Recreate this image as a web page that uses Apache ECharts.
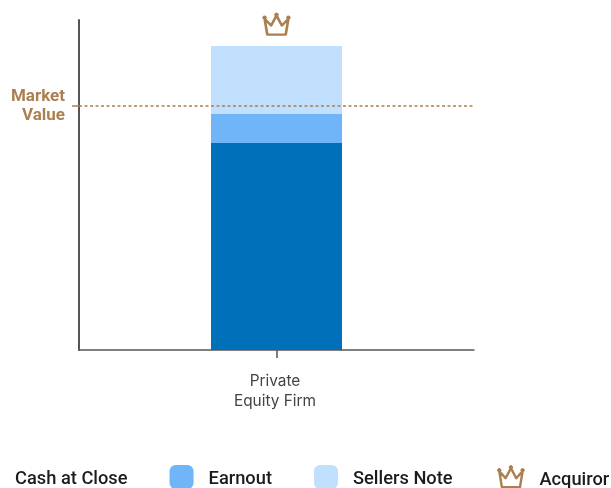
<!DOCTYPE html>
<html>
<head>
<meta charset="utf-8">
<style>html,body{margin:0;padding:0;background:#fff}#chart{width:611px;height:488px}</style>
<script src="https://cdn.jsdelivr.net/npm/echarts@6/dist/echarts.min.js"></script>
</head>
<body>
<div id="chart"></div>
<script>
// Deal consideration for a single acquirer type, stacked against market value.
const categories = ['Private\nEquity Firm'];
const cashAtClose = [62.7];
const earnout = [8.8];
const sellersNote = [20.6];
const acquiror = [92.1];
const marketValue = 74;
const marketLabel = 'Market\nValue';

const BROWN = '#AB7F4F';
const dot = (x, y) => `M${x - 1},${y} L${x},${y - 1} L${x + 1},${y} L${x},${y + 1} Z`;
const CROWN = 'path://M2,5 L8,11.5 L13,2 L18,11.5 L24,5 L21.5,20 L4.5,20 Z' + dot(2, 4) + dot(13, 1.2) + dot(24, 4);
const crownStyle = { color: 'rgba(0,0,0,0)', borderColor: BROWN, borderWidth: 2.4, borderJoin: 'round', opacity: 1 };
const legendFont = { fontFamily: 'Roboto', fontWeight: 500, fontSize: 18.3, color: '#1c1c1c' };
const legendText = { ...legendFont, rich: { t: { ...legendFont, padding: [4, 0, 0, 10] } } };
const legendFormat = name => `{t|${name}}`;

const chart = echarts.init(document.getElementById('chart'), null, { renderer: 'canvas' });
chart.setOption({
  animation: false,
  grid: { left: 79, right: 137, top: 20, bottom: 138 },
  legend: [
    {
      data: ['Cash at Close', 'Earnout', 'Sellers Note'],
      left: -24, top: 465, padding: 0,
      itemWidth: 24, itemHeight: 24, itemGap: 42,
      icon: 'roundRect', textStyle: legendText, formatter: legendFormat, selectedMode: false
    },
    {
      data: ['Acquiror'],
      left: 497, top: 465, padding: 0,
      itemWidth: 27, itemHeight: 21, itemStyle: crownStyle,
      textStyle: { ...legendFont, rich: { t: { ...legendFont, padding: [7, 0, 0, 10] } } },
      formatter: legendFormat, selectedMode: false
    }
  ],
  xAxis: {
    type: 'category',
    data: categories,
    axisLine: { lineStyle: { color: '#555', width: 1.5 } },
    axisTick: { show: true, alignWithLabel: true, customValues: [0], length: 8, lineStyle: { color: '#555', width: 1.5 } },
    axisLabel: { margin: 21, fontFamily: 'Inter', fontSize: 15.4, lineHeight: 20, color: '#444', padding: [0, 3, 0, 0] }
  },
  yAxis: {
    type: 'value',
    min: 0,
    max: 100,
    splitLine: { show: false },
    axisLine: { show: true, lineStyle: { color: '#555', width: 2 } },
    axisTick: { show: true, customValues: [marketValue], length: 7, lineStyle: { color: BROWN, width: 1.5 } },
    axisLabel: {
      customValues: [marketValue],
      formatter: () => marketLabel,
      margin: 14,
      fontFamily: 'Roboto', fontWeight: 700, fontSize: 17, lineHeight: 19, color: BROWN, align: 'right'
    }
  },
  series: [
    { name: 'Cash at Close', type: 'bar', stack: 'deal', barWidth: 131, data: cashAtClose, itemStyle: { color: '#0070BA' } },
    { name: 'Earnout', type: 'bar', stack: 'deal', data: earnout, itemStyle: { color: '#6FB5F7' } },
    {
      name: 'Sellers Note', type: 'bar', stack: 'deal', data: sellersNote, itemStyle: { color: '#C0E0FD' },
      markLine: {
        silent: true,
        symbol: 'none',
        label: { show: false },
        lineStyle: { color: BROWN, type: [3, 2.5], width: 1.5 },
        data: [{ yAxis: marketValue }]
      }
    },
    {
      name: 'Acquiror', type: 'scatter', data: acquiror,
      symbol: CROWN, symbolSize: [26, 21], symbolOffset: [0, -22],
      itemStyle: crownStyle
    }
  ]
});
</script>
</body>
</html>
